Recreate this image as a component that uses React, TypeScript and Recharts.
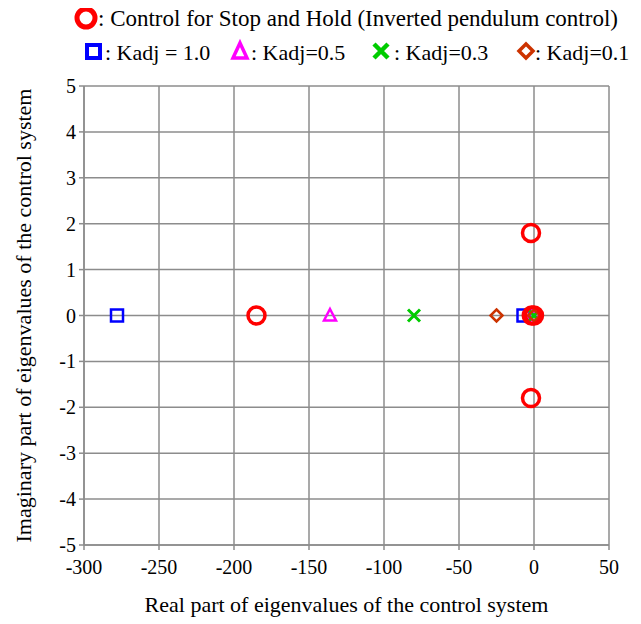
import { ScatterChart, Scatter, CartesianGrid, XAxis, YAxis } from 'recharts';

const holdRe = [-185, -2, -2, -1.5, 0];
const holdIm = [0, 1.8, -1.8, 0, 0];
const k10Re = [-278, -7];
const k10Im = [0, 0];
const k05Re = [-136, -1];
const k05Im = [0, 0];
const k03Re = [-80, 0];
const k03Im = [0, 0];
const k01Re = [-25, 0];
const k01Im = [0, 0];

const xTicks = [-300, -250, -200, -150, -100, -50, 0, 50];
const yTicks = [-5, -4, -3, -2, -1, 0, 1, 2, 3, 4, 5];

const toPoints = (re: number[], im: number[]) => re.map((x, i) => ({ x, y: im[i] }));

const FONT = '"Liberation Serif", "Times New Roman", serif';
const GRID = '#8c8c8c';

const Circle = (p: any) => <circle cx={p.cx} cy={p.cy} r={8.5} fill="none" stroke="#ff0000" strokeWidth={3.5} />;
const Square = (p: any) => <rect x={p.cx - 6} y={p.cy - 6} width={12} height={12} fill="none" stroke="#0000ff" strokeWidth={2.5} />;
const Triangle = (p: any) => (
  <polygon points={`${p.cx},${p.cy - 6.5} ${p.cx + 6},${p.cy + 5} ${p.cx - 6},${p.cy + 5}`} fill="none" stroke="#ff00ff" strokeWidth={2.5} />
);
const Cross = (p: any) => (
  <path d={`M${p.cx - 6},${p.cy - 6}L${p.cx + 6},${p.cy + 6}M${p.cx + 6},${p.cy - 6}L${p.cx - 6},${p.cy + 6}`} stroke="#00cc00" strokeWidth={3} />
);
const Diamond = (p: any) => (
  <polygon points={`${p.cx},${p.cy - 6} ${p.cx + 6},${p.cy} ${p.cx},${p.cy + 6} ${p.cx - 6},${p.cy}`} fill="none" stroke="#cc3300" strokeWidth={2.5} />
);

const XTick = (p: any) => (
  <text x={p.x} y={p.y + 21} textAnchor="middle" fontFamily="Liberation Serif" fontSize={20} fill="#000">{p.payload.value}</text>
);
const YTick = (p: any) => (
  <text x={p.x} y={p.y + 7} textAnchor="end" fontFamily="Liberation Serif" fontSize={20} fill="#000">{p.payload.value}</text>
);

// legend drawn in its own svg, shifted up by 8px so the top line fits inside the page
function LegendBox() {
  const t = { fontFamily: FONT, fontSize: 22, fill: '#000' };
  return (
    <svg width={633} height={78} style={{ position: 'absolute', left: 0, top: -8 }}>
      <g transform="translate(0,8)">
        <circle cx={78} cy={10} r={9} fill="none" stroke="#ff0000" strokeWidth={5} />
        <text x={90} y={18} {...t} fontSize={23}>: Control for Stop and Hold (Inverted pendulum control)</text>
        <rect x={79} y={37} width={13} height={13} fill="none" stroke="#0000ff" strokeWidth={4} />
        <text x={97} y={52} {...t}>: Kadj = 1.0</text>
        <polygon points="232,35 239,50 225,50" fill="none" stroke="#ff00ff" strokeWidth={3.5} />
        <text x={243} y={52} {...t}>: Kadj=0.5</text>
        <path d="M366,36L380,50M380,36L366,50" stroke="#00cc00" strokeWidth={4.5} />
        <text x={386} y={52} {...t}>: Kadj=0.3</text>
        <polygon points="518,36 525,43 518,50 511,43" fill="none" stroke="#cc3300" strokeWidth={3.5} />
        <text x={527} y={52} {...t}>: Kadj=0.1</text>
      </g>
    </svg>
  );
}

export default function App() {
  return (
    <div style={{ position: 'relative', width: 633, height: 616 }}>
      <ScatterChart width={633} height={616} margin={{ top: 78, right: 32, bottom: 0, left: 0 }}>
        <CartesianGrid stroke={GRID} strokeWidth={1.5} horizontalValues={yTicks} verticalValues={xTicks} />
        <XAxis
          type="number"
          dataKey="x"
          domain={[-300, 50]}
          ticks={xTicks}
          interval={0}
          height={79}
          stroke={GRID}
          strokeWidth={1.5}
          tickSize={5}
          tickMargin={3}
          tick={XTick}
          label={{ value: 'Real part of eigenvalues of the control system', position: 'insideBottom', offset: 12, style: { fontFamily: FONT, fontSize: 22, fill: '#000' } }}
        />
        <YAxis
          type="number"
          dataKey="y"
          domain={[-5, 5]}
          ticks={yTicks}
          interval={0}
          width={76}
          stroke={GRID}
          strokeWidth={1.5}
          tickSize={5}
          tickMargin={3}
          tick={YTick}
          label={{ value: 'Imaginary part of eigenvalues of the control system', angle: -90, position: 'insideLeft', offset: 15, style: { fontFamily: FONT, fontSize: 22, fill: '#000', textAnchor: 'middle' } }}
        />
        <Scatter data={toPoints(k10Re, k10Im)} shape={Square} isAnimationActive={false} />
        <Scatter data={toPoints(k05Re, k05Im)} shape={Triangle} isAnimationActive={false} />
        <Scatter data={toPoints(k03Re, k03Im)} shape={Cross} isAnimationActive={false} />
        <Scatter data={toPoints(k01Re, k01Im)} shape={Diamond} isAnimationActive={false} />
        <Scatter data={toPoints(holdRe, holdIm)} shape={Circle} isAnimationActive={false} />
      </ScatterChart>
      <LegendBox />
    </div>
  );
}
